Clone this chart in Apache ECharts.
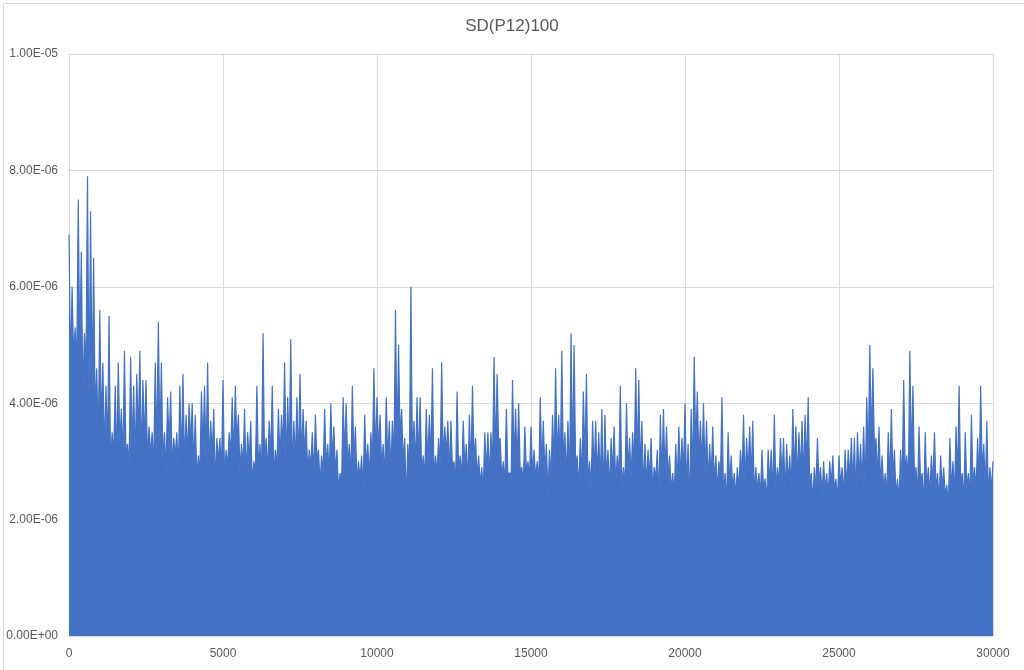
<!DOCTYPE html>
<html>
<head>
<meta charset="utf-8">
<script src="https://cdn.jsdelivr.net/npm/echarts@6/dist/echarts.min.js"></script>
<style>
html,body{margin:0;padding:0;background:#fff;}
#chart{width:1024px;height:670px;}
</style>
</head>
<body>
<div id="chart"></div>
<script>
// Title and axis ticks
const chartTitle = 'SD(P12)100';
const xStep = 100;            // spacing of sampled spike tops (x units)
const xTicks = [0, 5000, 10000, 15000, 20000, 25000, 30000];
const yTicks = [0, 2e-6, 4e-6, 6e-6, 8e-6, 1e-5];
const valueUnit = 1e-7;       // values below are in units of 1e-7

// Spike tops (local maxima), every 100 units from 0 to 30000
const peaks = [
  69,60,53,75,66,52,79,73,65,46,56,47,43,55,35,43,47,39,49,33,48,43,45,49,44,44,36,35,47,54,47,35,41,42,34,35,43,45,
  38,40,40,38,31,42,43,47,37,39,34,34,44,32,35,41,43,38,33,39,35,37,30,43,33,52,34,37,43,32,39,38,47,41,51,37,41,
  45,39,37,32,35,38,32,31,39,33,40,36,32,28,41,40,33,43,36,30,31,38,33,35,46,41,38,33,41,37,37,56,50,39,34,33,60,37,
  41,41,31,39,38,46,31,34,47,36,37,37,30,42,31,37,33,38,43,34,31,29,35,35,35,48,45,34,30,39,28,44,39,40,29,36,30,
  36,32,30,41,37,33,32,38,46,38,49,35,37,52,50,31,34,42,45,30,37,37,35,39,38,32,34,36,31,43,29,40,34,35,46,44,37,
  33,32,34,29,32,38,39,36,31,28,33,36,34,40,33,39,48,42,37,40,37,33,36,31,30,41,28,35,31,28,29,32,38,34,36,37,29,
  28,32,27,32,32,38,29,34,34,33,31,39,36,35,37,38,41,28,29,34,29,30,28,30,31,27,31,29,32,32,34,34,35,33,36,41,50,46,
  34,36,31,28,35,39,32,27,32,44,31,49,43,29,36,28,35,29,31,35,28,31,29,26,34,30,36,43,28,35,28,38,29,34,43,33,37,29,30
];

// Valley floors between consecutive spike tops (where the blue becomes solid)
const valleys = [
  46,48,46,49,41,46,41,42,38,33,36,31,32,29,31,30,33,30,31,29,32,30,34,30,33,30,31,29,32,33,30,28,33,29,31,28,30,29,
  31,33,29,27,28,32,30,29,31,26,30,28,27,29,31,30,33,28,29,27,30,26,28,29,27,30,28,31,27,29,30,32,29,31,28,30,29,
  30,31,28,29,27,30,26,28,29,27,30,28,25,26,31,29,27,30,26,27,25,29,27,30,31,32,29,27,30,28,30,33,34,30,23,28,31,29,
  30,28,27,29,30,27,28,29,30,31,28,29,26,28,27,29,26,28,30,27,26,25,28,27,29,31,33,27,26,28,25,30,29,28,26,28,27,
  28,27,26,29,28,24,27,29,30,29,30,27,26,30,29,25,27,30,26,25,28,27,26,24,27,25,28,26,27,25,26,28,27,29,30,28,25,
  26,27,25,27,23,27,28,27,25,24,26,27,28,25,22,28,32,30,29,28,26,27,26,25,27,24,23,26,25,24,25,27,26,28,27,24,25,
  24,25,23,26,24,25,26,27,24,26,25,28,27,28,27,29,26,23,25,26,24,25,24,26,25,23,26,24,25,27,26,24,27,26,25,30,33,32,
  27,26,25,24,26,27,24,23,26,28,26,30,27,24,26,22,25,24,26,25,23,25,24,22,25,24,27,26,23,25,24,26,25,26,28,25,24,25
];

const seriesData = [];
for (let i = 0; i < peaks.length; i++) {
  seriesData.push([i * xStep, peaks[i] * valueUnit]);
  if (i < valleys.length && i < peaks.length - 1) {
    seriesData.push([i * xStep + xStep / 2, valleys[i] * valueUnit]);
  }
}

function sci(v) {
  if (Math.abs(v) < 1e-20) return '0.00E+00';
  let e = Math.floor(Math.log10(Math.abs(v)) + 1e-9);
  let m = v / Math.pow(10, e);
  let ms = m.toFixed(2);
  if (ms === '10.00') { e += 1; ms = '1.00'; }
  return ms + 'E' + (e < 0 ? '-' : '+') + String(Math.abs(e)).padStart(2, '0');
}

const chart = echarts.init(document.getElementById('chart'), null, {renderer: 'canvas'});
const fontFam = '"Liberation Sans", Arial, sans-serif';
chart.setOption({
  animation: false,
  backgroundColor: '#ffffff',
  title: {
    text: chartTitle,
    left: 'center',
    top: 13,
    textStyle: {fontFamily: fontFam, fontSize: 17, fontWeight: 'normal', color: '#595959'}
  },
  graphic: [{
    type: 'rect', left: 1, top: 1, silent: true, z: -1,
    shape: {width: 1021, height: 667},
    style: {fill: 'none', stroke: '#d9d9d9', lineWidth: 1}
  }],
  grid: {left: 69, right: 31, top: 54, bottom: 34, containLabel: false},
  xAxis: {
    type: 'value',
    min: xTicks[0], max: xTicks[xTicks.length - 1], interval: xTicks[1] - xTicks[0],
    axisLine: {show: false},
    axisTick: {show: false},
    splitLine: {show: true, lineStyle: {color: '#d9d9d9', width: 1}},
    axisLabel: {fontFamily: fontFam, fontSize: 12, color: '#595959', margin: 12,
      formatter: function (v) { return String(v); }}
  },
  yAxis: {
    type: 'value',
    min: yTicks[0], max: yTicks[yTicks.length - 1], interval: yTicks[1] - yTicks[0],
    axisLine: {show: false},
    axisTick: {show: false},
    splitLine: {show: true, lineStyle: {color: '#d9d9d9', width: 1}},
    axisLabel: {fontFamily: fontFam, fontSize: 12, color: '#595959', margin: 11, formatter: sci}
  },
  series: [{
    type: 'line',
    data: seriesData,
    step: 'end',
    symbol: 'none',
    sampling: null,
    lineStyle: {color: '#4472C4', width: 1.2},
    areaStyle: {color: '#4472C4', opacity: 1, origin: 'start'},
    z: 3
  }]
});
</script>
</body>
</html>
